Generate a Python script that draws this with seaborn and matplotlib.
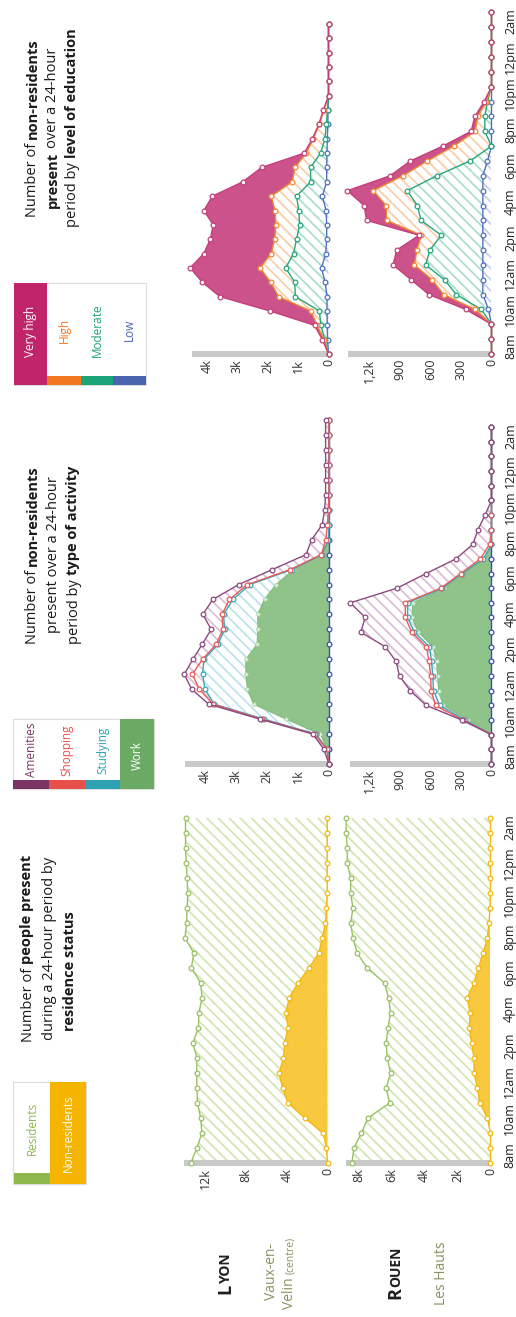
import numpy as np
import matplotlib
matplotlib.use("Agg")
import matplotlib.pyplot as plt
import seaborn as sns
from matplotlib.patches import Rectangle

# ---------------------------------------------------------------- data
time_labels = ["8am", "10am", "12am", "2pm", "4pm", "6pm", "8pm", "10pm", "12pm", "2am"]
slots = np.arange(24)  # hourly time slots starting at 8am

# --- residence status (people present)
lyon_nonres = [0, 100, 420, 2240, 3870, 4420, 4750, 4330, 4200, 3870, 4100, 3770,
               2890, 1820, 850, 520, 200, 100, 30, 30, 30, 30, 30, 30]
lyon_res = [13430, 12730, 11920, 10220, 8910, 8410, 8100, 8500, 9030, 8810, 8540, 8550,
            9570, 11550, 12290, 13480, 13650, 13690, 13700, 13760, 13850, 13920, 13920, 13920]
rouen_nonres = [0, 0, 0, 190, 640, 800, 1000, 1000, 1140, 1280, 1240, 1410,
                1000, 740, 440, 190, 90, 30, 0, 0, 0, 0, 0, 0]
rouen_res = [8390, 8270, 7820, 7230, 5470, 5520, 5050, 5250, 5180, 4930, 4810, 4760,
             5410, 6730, 7630, 8140, 8380, 8300, 8470, 8470, 8680, 8680, 8740, 8740]

# --- non-residents by type of activity
lyon_work = [0, 50, 280, 1380, 2430, 2630, 2680, 2680, 2320, 2290, 2300, 2080,
             1710, 1130, 220, 0, 0, 0, 0, 0, 0, 0, 0, 0]
lyon_studying = [0, 10, 140, 720, 1270, 1370, 1400, 1350, 1260, 1080, 1100, 1020,
                 840, 70, 10, 20, 0, 0, 0, 0, 0, 0, 0, 0]
lyon_shopping = [0, 10, 40, 70, 40, 180, 330, 50, 60, 50, 50, 110,
                 80, 50, 20, 80, 50, 20, 0, 0, 0, 0, 0, 0]
lyon_amenities = [0, 100, 60, 60, 140, 250, 260, 310, 450, 380, 620, 540,
                  280, 580, 490, 460, 170, 120, 110, 110, 110, 110, 110, 110]
rouen_work = [0, 0, 0, 231, 475, 520, 530, 540, 576, 720, 782, 772,
              470, 280, 70, 0, 0, 0, 0, 0, 0, 0, 0, 0]
rouen_studying = [0, 0, 0, 29, 35, 50, 48, 50, 34, 40, 43, 53,
                  15, 12, 10, 0, 0, 0, 0, 0, 0, 0, 0, 0]
rouen_shopping = [0, 0, 0, 20, 40, 25, 20, 25, 30, 25, 23, 23,
                  15, 11, 30, 18, 0, 0, 0, 0, 0, 0, 0, 0]
rouen_amenities = [0, 0, 0, 12, 92, 203, 307, 323, 404, 502, 394, 542,
                   430, 340, 240, 165, 133, 62, 0, 0, 0, 0, 0, 0]
activity_zero = [0] * 24

# --- non-residents by level of education
lyon_low = [0, 30, 40, 50, 50, 110, 230, 90, 60, 60, 80, 200,
            60, 60, 50, 40, 20, 20, 0, 0, 0, 0, 0, 0]
lyon_moderate = [0, 90, 210, 250, 1040, 1000, 1180, 1060, 990, 890, 900, 850,
                 530, 530, 210, 80, 50, 10, 0, 0, 0, 0, 0, 0]
lyon_high = [0, 30, 120, 280, 550, 790, 840, 730, 720, 780, 780, 830,
             600, 510, 470, 380, 230, 120, 0, 0, 0, 0, 0, 0]
lyon_veryhigh = [0, 50, 90, 1350, 1930, 2250, 2300, 2220, 2120, 2060, 2340, 1940,
                 1630, 1100, 70, 30, 20, 20, 0, 0, 0, 0, 0, 0]
rouen_low = [0, 0, 0, 30, 85, 85, 85, 85, 85, 85, 85, 85,
             85, 40, 0, 0, 0, 0, 0, 0, 0, 0, 0, 0]
rouen_moderate = [0, 0, 0, 70, 260, 377, 563, 520, 410, 607, 645, 743,
                  455, 172, 0, 66, 66, 40, 0, 0, 0, 0, 0, 0]
rouen_high = [0, 0, 0, 60, 125, 120, 110, 128, 194, 339, 305, 334,
              332, 418, 369, 94, 69, 10, 0, 0, 0, 0, 0, 0]
rouen_veryhigh = [0, 0, 0, 93, 145, 208, 210, 199, 23, 197, 218, 255,
                  126, 168, 110, 40, 29, 22, 0, 0, 0, 0, 0, 0]

# --- axis ticks
lyon_res_ticks, lyon_res_tlabels = [0, 4000, 8000, 12000], ["0", "4k", "8k", "12k"]
rouen_res_ticks, rouen_res_tlabels = [0, 2000, 4000, 6000, 8000], ["0", "2k", "4k", "6k", "8k"]
lyon_nr_ticks, lyon_nr_tlabels = [0, 1000, 2000, 3000, 4000], ["0", "1k", "2k", "3k", "4k"]
rouen_nr_ticks, rouen_nr_tlabels = [0, 300, 600, 900, 1200], ["0", "300", "600", "900", "1,2k"]

# ---------------------------------------------------------------- style
sns.set_theme(style="white")
plt.rcParams["font.family"] = ["Open Sans", "DejaVu Sans"]
plt.rcParams["hatch.linewidth"] = 1.3
HATCH = "\\\\\\"

W, H = 516, 1317
fig = plt.figure(figsize=(W / 100, H / 100), dpi=100)
fig.patch.set_facecolor("white")
bg = fig.add_axes([0, 0, 1, 1])
bg.set_xlim(0, W)
bg.set_ylim(H, 0)
bg.axis("off")
renderer = fig.canvas.get_renderer()


def make_panel(x_left, x_zero, y_top, y_bottom):
    ax = fig.add_axes([x_left / W, 1 - y_bottom / H, (x_zero - x_left) / W, (y_bottom - y_top) / H])
    ax.set_facecolor("none")
    for s in ax.spines.values():
        s.set_visible(False)
    return ax


def finish(ax, vmax, ticks, labels, show_time):
    ax.set_xlim(vmax, 0)
    ax.set_ylim(0, 23)
    ax.set_xlabel("")
    ax.set_ylabel("")
    ax.set_xticks(ticks)
    ax.set_xticklabels(labels)
    ax.tick_params(axis="x", length=0, pad=3.5, labelsize=9, labelcolor="#333333", labelrotation=90)
    for lb in ax.get_xticklabels():
        lb.set_va("top")
        lb.set_ha("center")
    if show_time:
        ax.yaxis.tick_right()
        ax.set_yticks(np.linspace(0.55, 22.4, len(time_labels)))
        ax.set_yticklabels(time_labels)
        ax.tick_params(axis="y", length=0, pad=9, labelsize=9, labelcolor="#222222", labelrotation=90)
        for lb in ax.get_yticklabels():
            lb.set_va("center")
            lb.set_ha("left")
    else:
        ax.set_yticks([])
    ax.axhline(0, color="#c9c9c9", lw=4.3, zorder=3, solid_capstyle="butt", clip_on=False)


def draw_line(ax, vals, color, z, ms=3.4, mfc="white", mec=None, lw=1.0, mew=0.9):
    sns.lineplot(x=np.asarray(vals, float), y=slots, orient="y", estimator=None, sort=True, ax=ax,
                 color=color, linewidth=lw, marker="o", markersize=ms, markerfacecolor=mfc,
                 markeredgecolor=mec or color, markeredgewidth=mew, zorder=z, clip_on=False)


def hatch_fill(ax, lo, hi, color, z=2):
    ax.fill_betweenx(slots, lo, hi, facecolor="none", edgecolor=color, hatch=HATCH, linewidth=0, zorder=z)


def solid_fill(ax, lo, hi, color, z=2):
    ax.fill_betweenx(slots, lo, hi, facecolor=color, edgecolor="none", linewidth=0, zorder=z)


# ---------------------------------------------------------------- residence panels
C_RES_LINE, C_RES_HATCH = "#98c163", "#d5e6b6"
C_NR_LINE, C_NR_FILL = "#f4b90c", "#f8c83e"

for city, (nonres, res, geo, ticks, tl, show) in {
    "lyon": (lyon_nonres, lyon_res, (184.0, 327.5, 818, 1163, 14100), lyon_res_ticks, lyon_res_tlabels, False),
    "rouen": (rouen_nonres, rouen_res, (346.0, 490.5, 818, 1163, 8750), rouen_res_ticks, rouen_res_tlabels, True),
}.items():
    ax = make_panel(geo[0], geo[1], geo[2], geo[3])
    nr = np.asarray(nonres, float)
    tot = nr + np.asarray(res, float)
    hatch_fill(ax, 0, tot, C_RES_HATCH)
    solid_fill(ax, 0, nr, C_NR_FILL, z=2.5)
    draw_line(ax, tot, C_RES_LINE, 5)
    draw_line(ax, nr, C_NR_LINE, 6)
    finish(ax, geo[4], ticks, tl, show)

# ---------------------------------------------------------------- activity panels
C_WORK = "#8fc38a"
C_STUD_LINE, C_STUD_HATCH = "#35a9b9", "#bfe3ea"
C_SHOP_LINE, C_SHOP_HATCH = "#e85a5a", "#f3c6c6"
C_AMEN_LINE, C_AMEN_HATCH = "#8c4a80", "#dcc0d6"
C_ZERO = "#3a4fa8"

for city, (w, st, sh, am, geo, ticks, tl, show) in {
    "lyon": (lyon_work, lyon_studying, lyon_shopping, lyon_amenities, (185.0, 329.0, 420, 764, 4645),
             lyon_nr_ticks, lyon_nr_tlabels, False),
    "rouen": (rouen_work, rouen_studying, rouen_shopping, rouen_amenities, (350.0, 491.5, 427, 764, 1392),
              rouen_nr_ticks, rouen_nr_tlabels, True),
}.items():
    ax = make_panel(geo[0], geo[1], geo[2], geo[3])
    w = np.asarray(w, float)
    s_top = w + np.asarray(st, float)
    h_top = s_top + np.asarray(sh, float)
    a_top = h_top + np.asarray(am, float)
    solid_fill(ax, 0, w, C_WORK)
    hatch_fill(ax, w, s_top, C_STUD_HATCH)
    hatch_fill(ax, s_top, h_top, C_SHOP_HATCH)
    hatch_fill(ax, h_top, a_top, C_AMEN_HATCH)
    draw_line(ax, w, "#84bd7e", 4, ms=2.6, mfc="#e4f2df", mec="#a6d39f", lw=0.9, mew=0.6)
    draw_line(ax, activity_zero, C_ZERO, 5)
    draw_line(ax, s_top, C_STUD_LINE, 6)
    draw_line(ax, h_top, C_SHOP_LINE, 7)
    draw_line(ax, a_top, C_AMEN_LINE, 8)
    finish(ax, geo[4], ticks, tl, show)

# ---------------------------------------------------------------- education panels
C_VH_LINE, C_VH_FILL = "#c63f7b", "#cc528b"
C_HI_LINE, C_HI_HATCH = "#f08a30", "#f9cfae"
C_MO_LINE, C_MO_HATCH = "#22a67a", "#afdfcb"
C_LO_LINE, C_LO_HATCH = "#5070c0", "#c9d0e8"

for city, (lo, mo, hi, vh, geo, ticks, tl, show) in {
    "lyon": (lyon_low, lyon_moderate, lyon_high, lyon_veryhigh, (192.0, 328.5, 24, 354, 4490),
             lyon_nr_ticks, lyon_nr_tlabels, False),
    "rouen": (rouen_low, rouen_moderate, rouen_high, rouen_veryhigh, (348.0, 491.5, 12.5, 354, 1411),
              rouen_nr_ticks, rouen_nr_tlabels, True),
}.items():
    ax = make_panel(geo[0], geo[1], geo[2], geo[3])
    l_top = np.asarray(lo, float)
    m_top = l_top + np.asarray(mo, float)
    h_top = m_top + np.asarray(hi, float)
    v_top = h_top + np.asarray(vh, float)
    hatch_fill(ax, 0, l_top, C_LO_HATCH)
    hatch_fill(ax, l_top, m_top, C_MO_HATCH)
    hatch_fill(ax, m_top, h_top, C_HI_HATCH)
    solid_fill(ax, h_top, v_top, C_VH_FILL)
    draw_line(ax, l_top, C_LO_LINE, 5)
    draw_line(ax, m_top, C_MO_LINE, 6)
    draw_line(ax, h_top, C_HI_LINE, 7)
    draw_line(ax, v_top, C_VH_LINE, 8)
    finish(ax, geo[4], ticks, tl, show)


# ---------------------------------------------------------------- text helpers
def text_width(s, size, weight):
    t = bg.text(0, 0, s, fontsize=size, fontweight=weight)
    wdt = t.get_window_extent(renderer=renderer).width
    t.remove()
    return wdt


def rich_line(xb, yc, segs, gap=True):
    """Vertical (rotated 90 deg) line of text made of styled segments, centred on yc."""
    widths = [text_width(s, sz, wt) for s, sz, wt, c in segs]
    sp = (text_width("a a", segs[0][1], "normal") - text_width("aa", segs[0][1], "normal")) if gap else 0.0
    total = sum(widths) + sp * (len(segs) - 1)
    y = yc + total / 2
    for (s, sz, wt, c), wdt in zip(segs, widths):
        bg.text(xb, y, s, fontsize=sz, fontweight=wt, color=c, rotation=90,
                rotation_mode="anchor", ha="left", va="baseline")
        y -= wdt + sp


TS = 10.5
K = "#1a1a1a"
# residence title
rich_line(31.5, 948, [("Number of", TS, "normal", K), ("people present", TS, "bold", K)])
rich_line(53.0, 948, [("during a 24-hour period by", TS, "normal", K)])
rich_line(74.5, 971, [("residence status", TS, "bold", K)])
# activity title
rich_line(36.5, 555, [("Number of", TS, "normal", K), ("non-residents", TS, "bold", K)])
rich_line(57.0, 555, [("present over a 24-hour", TS, "normal", K)])
rich_line(77.5, 555, [("period by", TS, "normal", K), ("type of activity", TS, "bold", K)])
# education title
rich_line(36.5, 127.5, [("Number of", TS, "normal", K), ("non-residents", TS, "bold", K)])
rich_line(56.5, 127.5, [("present", TS, "bold", K), ("over a 24-hour", TS, "normal", K)])
rich_line(76.0, 127.5, [("period by", TS, "normal", K), ("level of education", TS, "bold", K)])

# row labels
C_SUB = "#85945e"
rich_line(230, 1274, [("L", 13, "bold", "#1e1e1e"), ("YON", 10, "bold", "#1e1e1e")], gap=False)
rich_line(275, 1272, [("Vaux-en-", 10, "normal", C_SUB)])
rich_line(293, 1273, [("Velin", 10, "normal", C_SUB), ("(centre)", 7.5, "normal", C_SUB)])
rich_line(400, 1273, [("R", 13, "bold", "#1e1e1e"), ("OUEN", 10, "bold", "#1e1e1e")], gap=False)
rich_line(445, 1273, [("Les Hauts", 10, "normal", C_SUB)])


# ---------------------------------------------------------------- legends
def rect(x0, y0, x1, y1, fc, ec="none", lw=0.0, z=1):
    bg.add_patch(Rectangle((x0, y0), x1 - x0, y1 - y0, facecolor=fc, edgecolor=ec, linewidth=lw, zorder=z))


def legend_label(x, y, s, color, size=8.5):
    bg.text(x, y, s, rotation=90, ha="center", va="center", fontsize=size, color=color, zorder=3)


LS = 8.5
# residence legend
rect(13, 1082, 86, 1184, "white", "#dddddd", 0.8)
rect(14, 1173, 50, 1184, "#8cb84e", z=2)
rect(50, 1082, 86, 1184, "#f5b400", z=2)
legend_label(32, 1128, "Residents", "#8cb84e", LS)
legend_label(68.5, 1133, "Non-residents", "white", LS)

# activity legend
rect(13.3, 719.3, 154.3, 789.3, "white", "#dddddd", 0.8)
act_leg = [("Amenities", "#7a3566"), ("Shopping", "#e8504a"), ("Studying", "#2ea2b2")]
edges = [13.3, 49, 85, 120, 154.3]
for i, (name, col) in enumerate(act_leg):
    rect(edges[i], 780, edges[i + 1], 789.3, col, z=2)
    legend_label((edges[i] + edges[i + 1]) / 2, 750, name, col, LS)
rect(120, 719.3, 154.3, 789.3, "#6aaa64", z=2)
legend_label(137.2, 755, "Work", "white", LS)

# education legend
rect(14.3, 283.3, 145.7, 385, "white", "#dddddd", 0.8)
rect(14.3, 283.3, 47.3, 385, "#c0246a", z=2)
legend_label(30.8, 331, "Very high", "white", LS)
edu_leg = [("High", "#f07820"), ("Moderate", "#1ba478"), ("Low", "#4a64b0")]
edges = [47.3, 80.7, 113.3, 145.7]
for i, (name, col) in enumerate(edu_leg):
    rect(edges[i], 376, edges[i + 1], 385, col, z=2)
    legend_label((edges[i] + edges[i + 1]) / 2, 330, name, col, LS)

fig.savefig("out.png", dpi=100, facecolor="white")
